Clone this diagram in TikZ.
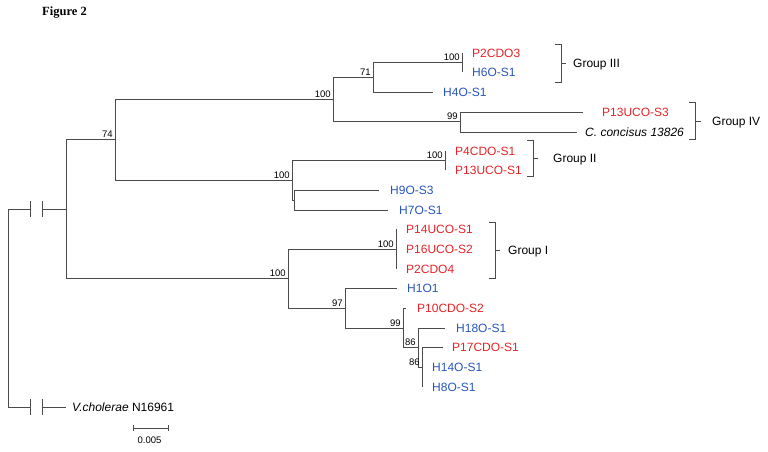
\documentclass[tikz,border=0pt]{standalone}
\usepackage{fontspec}
\setmainfont{Liberation Sans}
\newfontfamily\figfont{Liberation Serif}
\usetikzlibrary{positioning}
\definecolor{isored}{RGB}{230,35,40}
\definecolor{isoblue}{RGB}{40,85,190}
\definecolor{branchgray}{RGB}{75,75,75}

\begin{document}
\begin{tikzpicture}[x=1pt, y=-1pt, node distance=10pt,
  branch/.style={draw=branchgray, line width=0.8pt},
  taxon/.style={inner sep=0pt, anchor=west, text height=8.6pt, text depth=0pt,
    font=\fontsize{12}{14}\selectfont},
  redtaxon/.style={taxon, text=isored},
  bluetaxon/.style={taxon, text=isoblue},
  boot/.style={inner sep=0pt, anchor=south east, xshift=-2pt, yshift=1.5pt,
    font=\fontsize{9.5}{10}\selectfont}]
\useasboundingbox (0,0) rectangle (768,451);

\node[anchor=west, inner sep=0pt, font=\figfont\bfseries\fontsize{12.5}{14}\selectfont] (title) at (42,13) {Figure 2};

%%% inner nodes of the tree %%%
\coordinate (root) at (8,308);
\coordinate (cutA) at (30,209);
\coordinate (cutB) at (42,209);
\coordinate (cutC) at (30,407);
\coordinate (cutD) at (42,407);
\coordinate (nA) at (66,209);
\coordinate (nB) at (115,139);
\coordinate (nC) at (333,99);
\coordinate (nD) at (373,77);
\coordinate (nE) at (462,62);
\coordinate (nF) at (460,121);
\coordinate (nG) at (292,180);
\coordinate (nH) at (445,160);
\coordinate (nI) at (294,200);
\coordinate (nJ) at (288,278);
\coordinate (nK) at (396,249);
\coordinate (nL) at (345,308);
\coordinate (nM) at (403,328);
\coordinate (nN) at (418,347);
\coordinate (nO) at (422,367);

%%% branch tips %%%
\coordinate (tP2CDO3) at (462,53);
\coordinate (tH6OS1) at (462,72);
\coordinate (tH4OS1) at (433,92);
\coordinate (tP13UCOS3) at (583,112);
\coordinate (tCcon) at (577,132);
\coordinate (tP4CDOS1) at (445,151);
\coordinate (tP13UCOS1) at (445,170);
\coordinate (tH9OS3) at (379,190);
\coordinate (tH7OS1) at (388,210);
\coordinate (tP14UCOS1) at (396,229);
\coordinate (tP16UCOS2) at (396,249);
\coordinate (tP2CDO4) at (396,269);
\coordinate (tH1O1) at (397,288);
\coordinate (tP10CDOS2) at (406,308);
\coordinate (tH18OS1) at (445,328);
\coordinate (tP17CDOS1) at (443,347);
\coordinate (tH14OS1) at (422,367);
\coordinate (tH8OS1) at (422,387);
\coordinate (tVchol) at (66,407);

%%% root with broken branches %%%
\draw[branch] (root) |- (cutA) (cutB) -- (nA);
\draw[branch] (root) |- (cutC) (cutD) -- (tVchol);
\draw[branch] ([yshift=8pt]cutA) -- ([yshift=-8pt]cutA);
\draw[branch] ([yshift=8pt]cutB) -- ([yshift=-8pt]cutB);
\draw[branch] ([yshift=8pt]cutC) -- ([yshift=-8pt]cutC);
\draw[branch] ([yshift=8pt]cutD) -- ([yshift=-8pt]cutD);

%%% inner branches %%%
\draw[branch] (nA) |- (nB) node[boot] (bB) {74};
\draw[branch] (nA) |- (nJ) node[boot] (bJ) {100};
\draw[branch] (nB) |- (nC) node[boot] (bC) {100};
\draw[branch] (nB) |- (nG) node[boot] (bG) {100};
\draw[branch] (nC) |- (nD) node[boot] (bD) {71};
\draw[branch] (nC) |- (nF) node[boot] (bF) {99};
\draw[branch] (nD) |- (nE) node[boot] (bE) {100};
\draw[branch] (nG) |- (nH) node[boot] (bH) {100};
\draw[branch] (nG) |- (nI);
\draw[branch] (nJ) |- (nK) node[boot] (bK) {100};
\draw[branch] (nJ) |- (nL) node[boot] (bL) {97};
\draw[branch] (nL) |- (nM) node[boot] (bM) {99};
\draw[branch] (nM) |- (nN) node[boot] (bN) {86};
\draw[branch] (nN) |- (nO) node[boot] (bO) {86};

%%% leaves %%%
\draw[branch] (nE) |- (tP2CDO3);
\draw[branch] (nE) |- (tH6OS1);
\draw[branch] (nD) |- (tH4OS1);
\draw[branch] (nF) |- (tP13UCOS3);
\draw[branch] (nF) |- (tCcon);
\draw[branch] (nH) |- (tP4CDOS1);
\draw[branch] (nH) |- (tP13UCOS1);
\draw[branch] (nI) |- (tH9OS3);
\draw[branch] (nI) |- (tH7OS1);
\draw[branch] (nK) |- (tP14UCOS1);
\draw[branch] (nK) |- (tP2CDO4);
\draw[branch] (nL) |- (tH1O1);
\draw[branch] (nM) |- (tP10CDOS2);
\draw[branch] (nN) |- (tH18OS1);
\draw[branch] (nO) |- (tP17CDOS1);
\draw[branch] (nO) |- (tH8OS1);

\node[redtaxon, right=of tP2CDO3] (P2CDO3) {P2CDO3};
\node[bluetaxon, right=of tH6OS1] (H6OS1) {H6O-S1};
\node[bluetaxon, right=of tH4OS1] (H4OS1) {H4O-S1};
\node[redtaxon, right=19pt of tP13UCOS3] (P13UCOS3) {P13UCO-S3};
\node[taxon, right=8pt of tCcon] (Ccon) {\itshape C. concisus 13826};
\node[redtaxon, right=of tP4CDOS1] (P4CDOS1) {P4CDO-S1};
\node[redtaxon, right=of tP13UCOS1] (P13UCOS1) {P13UCO-S1};
\node[bluetaxon, right=11pt of tH9OS3] (H9OS3) {H9O-S3};
\node[bluetaxon, right=11pt of tH7OS1] (H7OS1) {H7O-S1};
\node[redtaxon, right=of tP14UCOS1] (P14UCOS1) {P14UCO-S1};
\node[redtaxon, right=of tP16UCOS2] (P16UCOS2) {P16UCO-S2};
\node[redtaxon, right=of tP2CDO4] (P2CDO4) {P2CDO4};
\node[bluetaxon, right=of tH1O1] (H1O1) {H1O1};
\node[redtaxon, right=11pt of tP10CDOS2] (P10CDOS2) {P10CDO-S2};
\node[bluetaxon, right=11pt of tH18OS1] (H18OS1) {H18O-S1};
\node[redtaxon, right=9pt of tP17CDOS1] (P17CDOS1) {P17CDO-S1};
\node[bluetaxon, right=of tH14OS1] (H14OS1) {H14O-S1};
\node[bluetaxon, right=of tH8OS1] (H8OS1) {H8O-S1};
\node[taxon, right=6pt of tVchol] (Vchol) {\textit{V.cholerae} N16961};

%%% group brackets %%%
\draw[branch] (555,44) -- (561,44) -- (561,82) -- (555,82);
\draw[branch] (561,63) -- (566,63);
\node[taxon] (groupIII) at (573,63) {Group III};
\draw[branch] (689,102) -- (695,102) -- (695,139) -- (689,139);
\draw[branch] (695,121) -- (701,121);
\node[taxon] (groupIV) at (712,121) {Group IV};
\draw[branch] (527,140) -- (533,140) -- (533,176) -- (527,176);
\draw[branch] (533,158) -- (538,158);
\node[taxon] (groupII) at (553,158) {Group II};
\draw[branch] (489,222) -- (495,222) -- (495,278) -- (489,278);
\draw[branch] (495,250) -- (500,250);
\node[taxon] (groupI) at (508,250) {Group I};

%%% scale bar %%%
\coordinate (barL) at (133,428);
\coordinate (barR) at (168,428);
\draw[branch] (barL) -- (barR);
\draw[branch] ([yshift=3pt]barL) -- ([yshift=-3pt]barL);
\draw[branch] ([yshift=3pt]barR) -- ([yshift=-3pt]barR);
\node[inner sep=0pt, font=\fontsize{9.5}{10}\selectfont] (barlabel) at (149.5,440) {0.005};

\end{tikzpicture}
\end{document}
